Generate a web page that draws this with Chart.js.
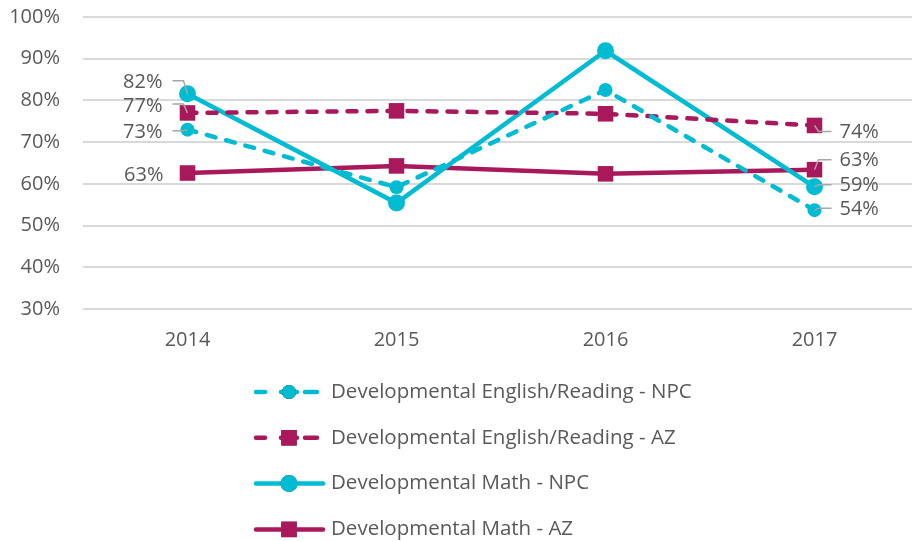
<!DOCTYPE html>
<html>
<head>
<meta charset="utf-8">
<script src="https://cdn.jsdelivr.net/npm/chart.js@4/dist/chart.umd.min.js"></script>
<style>
  html, body { margin: 0; padding: 0; background: #fff; overflow: hidden; }
  #wrap { width: 930px; height: 541px; }
</style>
</head>
<body>
<div id="wrap"><canvas id="chart" width="930" height="541"></canvas></div>
<script>
// data
var years = ['2014', '2015', '2016', '2017'];
var engNPC = [0.73, 0.592, 0.825, 0.537];
var engAZ = [0.77, 0.775, 0.768, 0.74];
var mathNPC = [0.816, 0.554, 0.919, 0.593];
var mathAZ = [0.626, 0.643, 0.624, 0.634];
var seriesNames = [
    'Developmental English/Reading - NPC',
    'Developmental English/Reading - AZ',
    'Developmental Math - NPC',
    'Developmental Math - AZ'
];
var yTicks = [0.3, 0.4, 0.5, 0.6, 0.7, 0.8, 0.9, 1.0];

var CYAN = '#00BCD2';
var MAGENTA = '#A8185B';
var GREY = '#595959';
var FONT = '"Open Sans", sans-serif';

// where the end labels sit, relative to their point (first = 2014, last = 2017)
var labelLayout = [
    [{dx: -25, dy: 3, leader: true}, {dx: 25, dy: -1, leader: true}],
    [{dx: -25, dy: -7, leader: true}, {dx: 25, dy: 7, leader: true}],
    [{dx: -25, dy: -11, leader: true}, {dx: 25, dy: -1, leader: true}],
    [{dx: -24, dy: 2, leader: false}, {dx: 25, dy: -9, leader: true}]
];

function pct(v) { return Math.round(v * 100) + '%'; }

var endLabels = {
    id: 'endLabels',
    afterDatasetsDraw: function(chart) {
        var ctx = chart.ctx;
        ctx.save();
        ctx.font = '20px ' + FONT;
        ctx.textBaseline = 'middle';
        chart.data.datasets.forEach(function(ds, i) {
            var meta = chart.getDatasetMeta(i);
            [0, ds.data.length - 1].forEach(function(idx, k) {
                var pt = meta.data[idx];
                var lay = labelLayout[i][k];
                var ly = pt.y + lay.dy;
                var tx = pt.x + lay.dx;
                if (lay.leader) {
                    ctx.strokeStyle = '#A6A6A6';
                    ctx.lineWidth = 1.5;
                    ctx.beginPath();
                    if (k === 0) {
                        ctx.moveTo(tx + 10, ly - 2);
                        ctx.lineTo(pt.x - 4, ly - 2);
                    } else {
                        ctx.moveTo(tx - 8, ly - 1);
                        ctx.lineTo(pt.x + 4, ly - 1);
                    }
                    ctx.lineTo(pt.x, pt.y);
                    ctx.stroke();
                }
                ctx.fillStyle = GREY;
                ctx.textAlign = k === 0 ? 'right' : 'left';
                ctx.fillText(pct(ds.data[idx]), tx, ly);
            });
        });
        ctx.restore();
    }
};

var sideLegend = {
    id: 'sideLegend',
    afterDraw: function(chart) {
        var ctx = chart.ctx;
        ctx.save();
        chart.data.datasets.forEach(function(ds, i) {
            var y = 392 + i * 45.8;
            ctx.strokeStyle = ds.borderColor;
            ctx.lineWidth = ds.borderWidth;
            ctx.lineCap = 'round';
            ctx.beginPath();
            if (ds.borderDash) {
                ctx.moveTo(256, y); ctx.lineTo(265, y);
                ctx.moveTo(281, y); ctx.lineTo(297, y);
                ctx.moveTo(305, y); ctx.lineTo(317, y);
            } else {
                ctx.moveTo(256, y); ctx.lineTo(323, y);
            }
            ctx.stroke();
            Chart.helpers.drawPoint(ctx, {
                pointStyle: ds.pointStyle,
                radius: ds.pointRadius,
                borderWidth: 0
            }, 289, y);
            ctx.fillStyle = ds.pointBackgroundColor;
            ctx.fill();
            ctx.fillStyle = GREY;
            ctx.font = '20.5px ' + FONT;
            ctx.textAlign = 'left';
            ctx.textBaseline = 'middle';
            ctx.fillText(seriesNames[i], 331, y);
        });
        ctx.restore();
    }
};

function line(label, data, color, dashed, style, radius) {
    return {
        label: label,
        data: data,
        borderColor: color,
        backgroundColor: color,
        pointBackgroundColor: color,
        pointBorderWidth: 0,
        pointStyle: style,
        pointRadius: radius,
        borderWidth: 4.5,
        borderDash: dashed ? [9, 11] : undefined,
        borderCapStyle: 'round',
        tension: 0,
        fill: false
    };
}

var ctx = document.getElementById('chart').getContext('2d');
var chart = new Chart(ctx, {
    type: 'line',
    data: {
        labels: years,
        datasets: [
            line(seriesNames[0], engNPC, CYAN, true, 'circle', 7),
            line(seriesNames[1], engAZ, MAGENTA, true, 'rect', 11),
            line(seriesNames[2], mathNPC, CYAN, false, 'circle', 8.5),
            line(seriesNames[3], mathAZ, MAGENTA, false, 'rect', 11)
        ]
    },
    options: {
        responsive: false,
        animation: false,
        devicePixelRatio: 1,
        layout: { padding: { top: 17, right: 0, bottom: 186, left: 0 } },
        plugins: {
            legend: { display: false },
            tooltip: { enabled: false }
        },
        scales: {
            x: {
                offset: true,
                grid: { display: false },
                border: { display: false },
                ticks: { color: GREY, font: { family: FONT, size: 20 }, padding: 11 },
                afterFit: function(scale) {
                    scale.height = 46;
                    scale.paddingLeft = 0;
                    scale.paddingRight = 0;
                }
            },
            y: {
                min: 0.3,
                max: 1.0,
                afterBuildTicks: function(scale) {
                    scale.ticks = yTicks.map(function(v) { return {value: v}; });
                },
                grid: { color: '#D9D9D9', lineWidth: 2, drawTicks: false },
                border: { display: false },
                ticks: {
                    color: GREY,
                    font: { family: FONT, size: 20 },
                    padding: 23,
                    callback: function(v) { return pct(v); }
                },
                afterFit: function(scale) {
                    scale.width = 83;
                    scale.paddingTop = 0;
                    scale.paddingBottom = 0;
                }
            }
        }
    },
    plugins: [endLabels, sideLegend]
});
</script>
</body>
</html>
